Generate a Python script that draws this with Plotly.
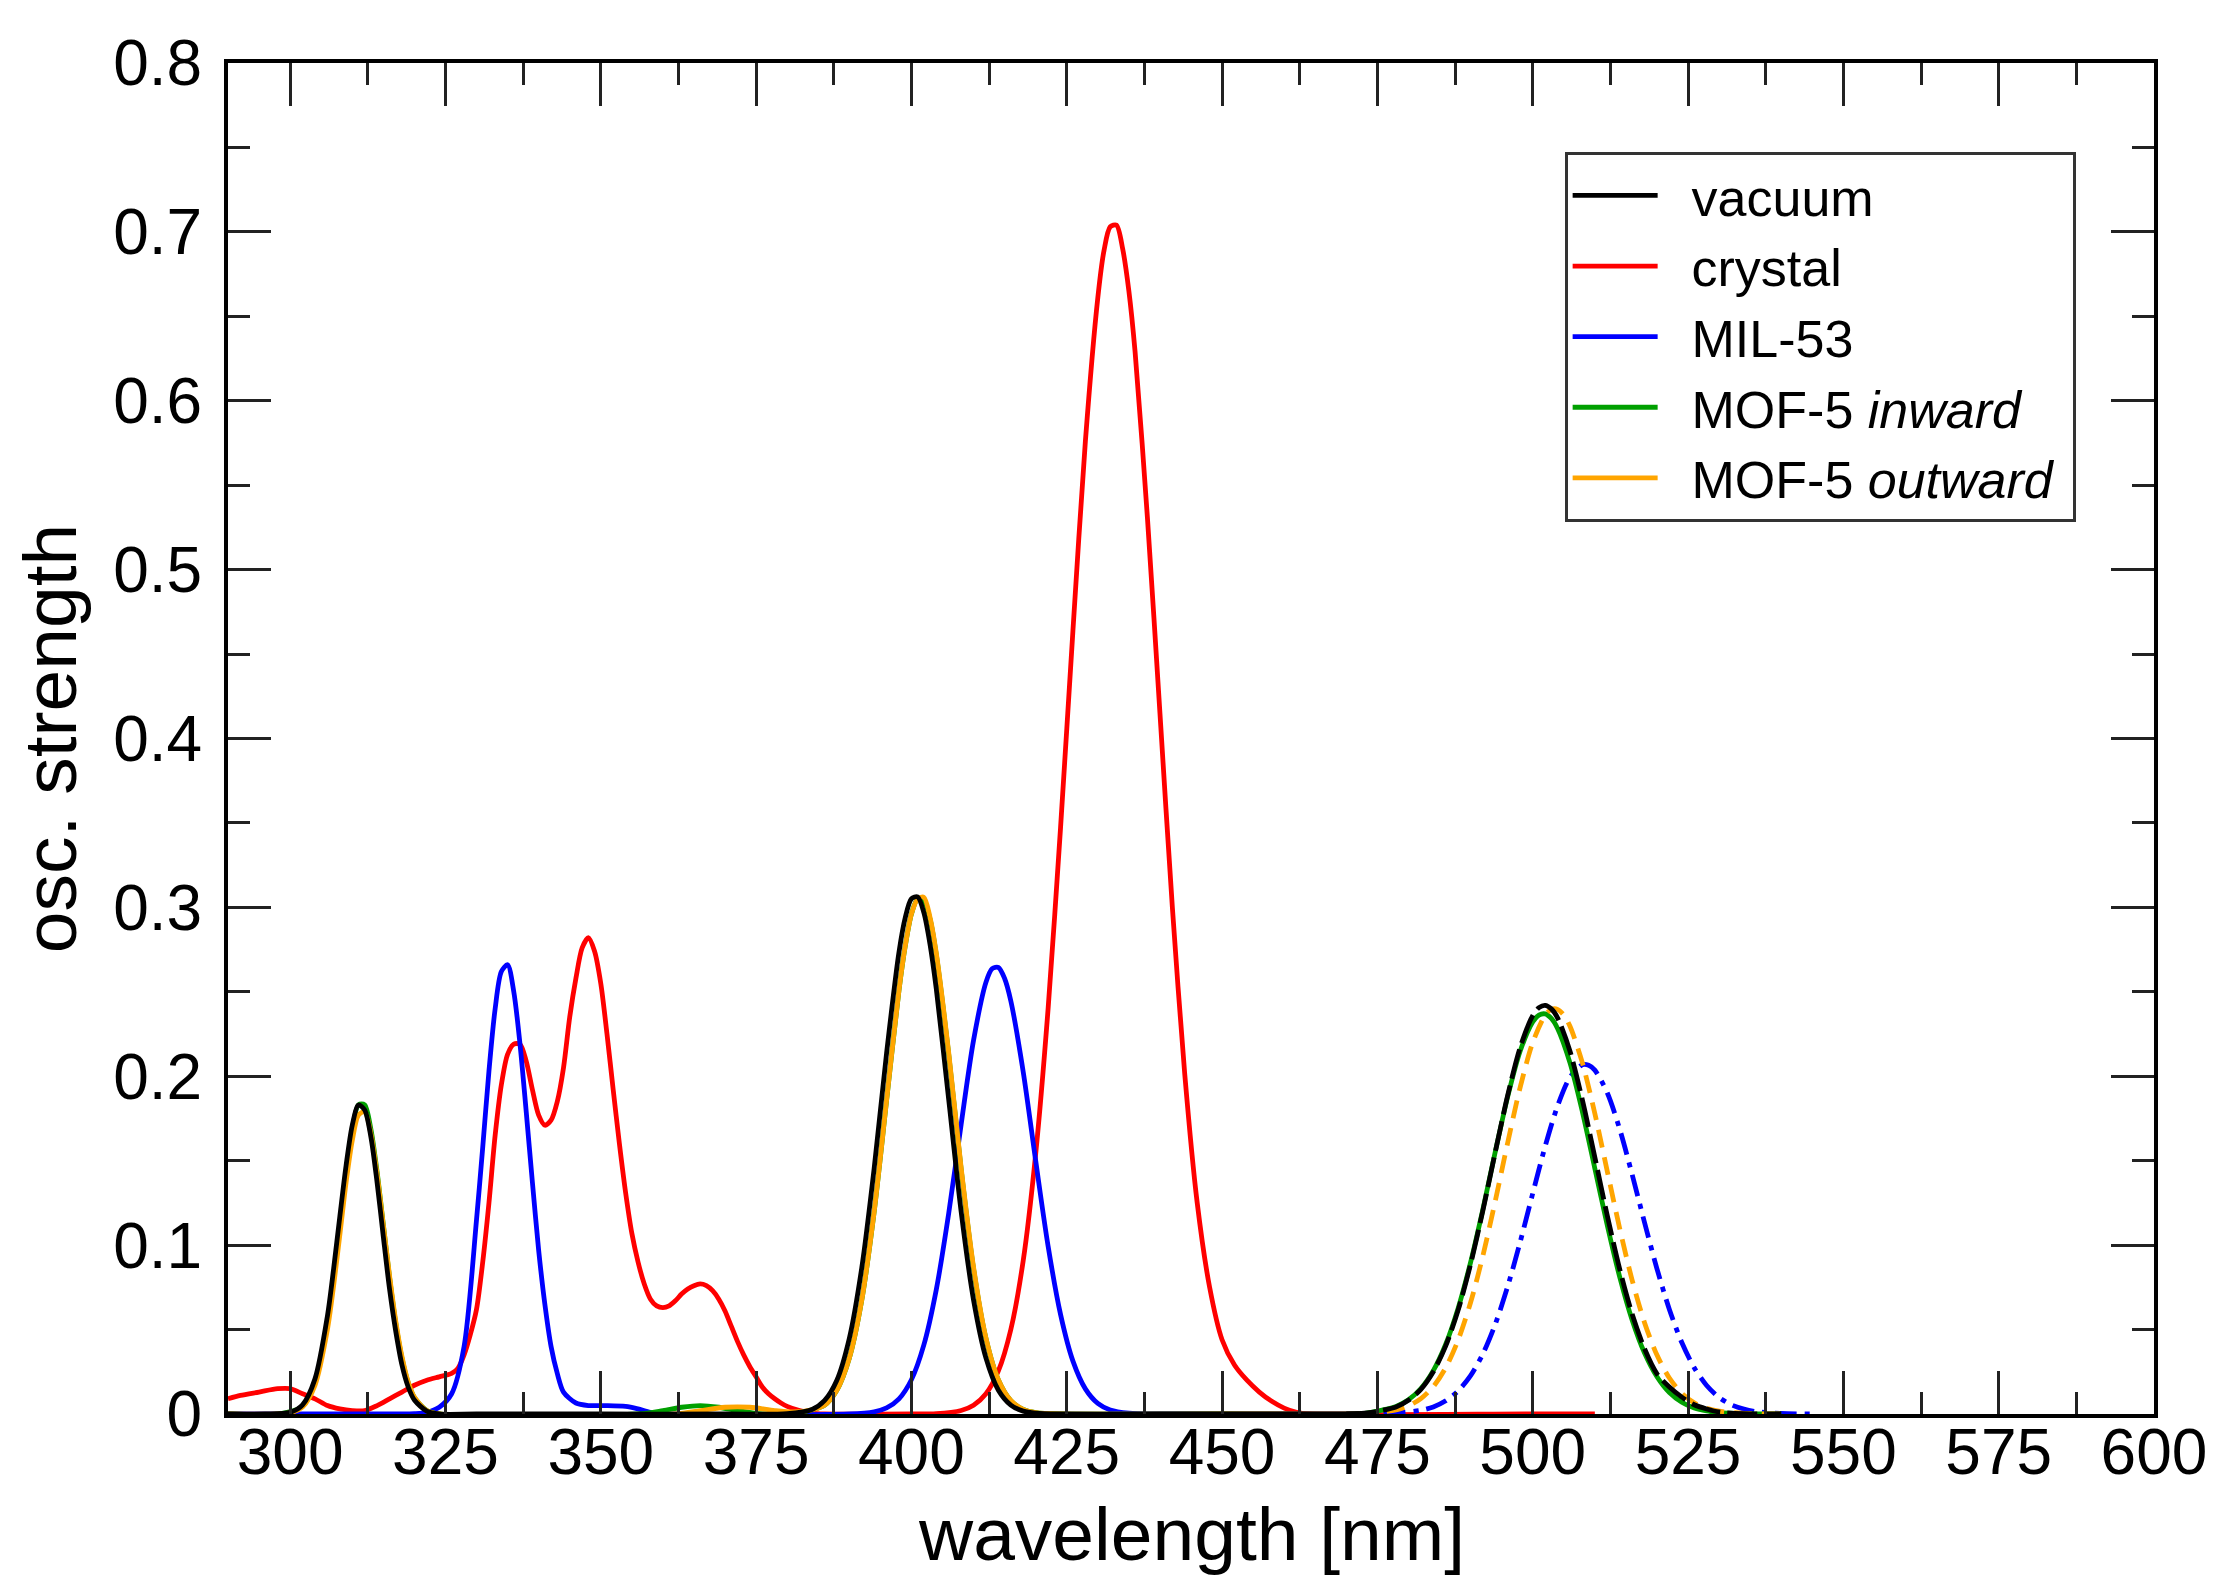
import plotly.graph_objects as go

# ---------------- data ----------------
vacuum_points = [(290, 0), (296, 0), (300, 0.001), (302, 0.0054), (304, 0.0208), (306, 0.058), (307, 0.086),
                 (308, 0.117), (309, 0.147), (310, 0.171), (311, 0.183), (312, 0.180), (313, 0.164), (314, 0.137),
                 (315, 0.105), (316, 0.074), (317, 0.049), (318, 0.029), (319, 0.016), (320, 0.0083), (322, 0.0017),
                 (324, 0), (330, 0), (350, 0), (370, 0), (380, 0.0002), (384, 0.0027), (386, 0.0079), (388, 0.020),
                 (390, 0.0447), (392, 0.0864), (394, 0.1454), (396, 0.2136), (398, 0.2735), (399, 0.2938),
                 (400, 0.3051), (401, 0.3062), (402, 0.2969), (403, 0.278), (404, 0.2518), (406, 0.1862),
                 (408, 0.120), (410, 0.0675), (412, 0.0331), (414, 0.0141), (416, 0.0053), (418, 0.0017),
                 (420, 0.0005), (424, 0), (440, 0), (460, 0), (472, 0)]
vacuum_band3_points = [(470, 0), (474, 0.001), (478, 0.0042), (480, 0.0081), (482, 0.0146), (484, 0.025),
                       (486, 0.0403), (488, 0.0615), (490, 0.0887), (492, 0.1208), (494, 0.1555), (496, 0.1891),
                       (498, 0.2173), (500, 0.2359), (501, 0.2406), (502, 0.242), (503, 0.2399), (504, 0.2346),
                       (506, 0.2148), (508, 0.1859), (510, 0.1521), (512, 0.1175), (514, 0.0858), (516, 0.0592),
                       (518, 0.0386), (520, 0.0238), (522, 0.016), (524, 0.010), (526, 0.0055), (528, 0.003),
                       (530, 0.0012), (534, 0.0002), (540, 0)]

crystal_points = [(290, 0.009), (292, 0.011), (295, 0.013), (298, 0.015), (300, 0.015), (302, 0.012), (304, 0.009),
                  (306, 0.005), (308, 0.003), (310, 0.002), (312, 0.002), (314, 0.005), (316, 0.009), (318, 0.013),
                  (320, 0.017), (322, 0.020), (324, 0.022), (326, 0.024), (327, 0.027), (328, 0.035), (329, 0.047),
                  (330, 0.062), (331, 0.090), (332, 0.125), (333, 0.165), (334, 0.195), (335, 0.213), (336, 0.219),
                  (337, 0.219), (338, 0.209), (339, 0.192), (340, 0.177), (341, 0.171), (342, 0.174), (343, 0.185),
                  (344, 0.205), (345, 0.235), (346, 0.258), (347, 0.276), (348, 0.282), (349, 0.274), (350, 0.255),
                  (351, 0.225), (352, 0.192), (353, 0.160), (354, 0.131), (355, 0.107), (356, 0.090), (357, 0.077),
                  (358, 0.068), (359, 0.064), (360, 0.063), (361, 0.064), (362, 0.067), (363, 0.071), (364, 0.074),
                  (365, 0.076), (366, 0.077), (367, 0.076), (368, 0.073), (369, 0.068), (370, 0.061), (371, 0.052),
                  (372, 0.043), (373, 0.035), (374, 0.028), (375, 0.022), (376, 0.016), (377, 0.012), (378, 0.009),
                  (379, 0.0065), (380, 0.0045), (382, 0.002), (384, 0.0005), (386, 0), (400, 0), (404, 0.0002),
                  (408, 0.0021), (410, 0.0052), (412, 0.0120), (414, 0.0255), (416, 0.0500), (418, 0.0910),
                  (420, 0.1540), (422, 0.2400), (424, 0.3470), (426, 0.4640), (428, 0.5760), (430, 0.6610),
                  (431, 0.689), (432, 0.7030), (433, 0.7040), (434, 0.6900), (435, 0.6650), (436, 0.6290),
                  (438, 0.5300), (440, 0.4150), (442, 0.3000), (444, 0.2010), (446, 0.1250), (448, 0.075),
                  (450, 0.044), (452, 0.029), (454, 0.020), (456, 0.013), (458, 0.0075), (460, 0.0035), (462, 0.001),
                  (464, 0), (500, 0), (510, 0)]

mil53_points = [(290, 0), (318, 0), (320, 0.0002), (322, 0.001), (324, 0.004), (326, 0.012), (328, 0.040),
                (330, 0.115), (331, 0.158), (332, 0.203), (333, 0.240), (334, 0.262), (335, 0.266), (336, 0.250),
                (337, 0.219), (338, 0.179), (339, 0.137), (340, 0.097), (341, 0.065), (342, 0.040), (343, 0.024),
                (344, 0.013), (346, 0.0065), (348, 0.005), (351, 0.005), (354, 0.0045), (356, 0.003), (358, 0.001),
                (361, 0), (390, 0), (394, 0.0013), (396, 0.0036), (398, 0.009), (400, 0.0203), (402, 0.0409),
                (404, 0.0736), (406, 0.1188), (408, 0.1714), (410, 0.2213), (412, 0.2557), (413, 0.2637),
                (414, 0.2644), (415, 0.2579), (416, 0.2446), (418, 0.2025), (420, 0.150), (422, 0.0994),
                (424, 0.059), (426, 0.0313), (428, 0.0149), (430, 0.0063), (432, 0.0024), (435, 0.0005),
                (440, 0), (472, 0)]
mil53_band3_points = [(476, 0), (478, 0.0005), (482, 0.0022), (484, 0.0042), (486, 0.0078), (488, 0.0137),
                      (490, 0.0227), (492, 0.0357), (494, 0.0534), (496, 0.0759), (498, 0.1021), (500, 0.1306),
                      (502, 0.1584), (504, 0.1824), (506, 0.1994), (508, 0.2068), (509, 0.2065), (510, 0.2036),
                      (512, 0.1902), (514, 0.1687), (516, 0.1419), (518, 0.1134), (520, 0.086), (522, 0.0619),
                      (524, 0.0423), (526, 0.0274), (528, 0.0169), (530, 0.0098), (532, 0.0054), (534, 0.0029),
                      (536, 0.0014), (540, 0.0003), (545, 0)]

mof5_inward_points = [(290, 0), (298, 0), (302, 0.0046), (304, 0.0186), (306, 0.0538), (307, 0.081), (308, 0.1122),
                      (309, 0.1434), (310, 0.1687), (311, 0.1831), (312, 0.1831), (313, 0.1687), (314, 0.1434),
                      (315, 0.1122), (316, 0.081), (317, 0.0538), (318, 0.033), (319, 0.0186), (320, 0.0097),
                      (322, 0.0021), (324, 0), (356, 0), (360, 0.002), (363, 0.004), (366, 0.005), (369, 0.004),
                      (372, 0.002), (376, 0), (382, 0.0008), (384, 0.0025), (386, 0.0052), (388, 0.0141),
                      (390, 0.033), (392, 0.0673), (394, 0.1197), (396, 0.1856), (398, 0.251), (399, 0.277),
                      (400, 0.296), (401, 0.305), (402, 0.304), (403, 0.293), (404, 0.272), (406, 0.213),
                      (408, 0.145), (410, 0.086), (412, 0.0446), (414, 0.0201), (416, 0.0079), (418, 0.0027),
                      (420, 0.0008), (424, 0), (450, 0), (472, 0), (474, 0.001), (478, 0.0044), (480, 0.0084),
                      (482, 0.0151), (484, 0.0257), (486, 0.0413), (488, 0.0627), (490, 0.0898), (492, 0.1216),
                      (494, 0.1557), (496, 0.1883), (498, 0.2151), (500, 0.2322), (501, 0.2362), (502, 0.2369),
                      (503, 0.2342), (504, 0.2283), (506, 0.2079), (508, 0.1789), (510, 0.1454), (512, 0.1118),
                      (514, 0.0812), (516, 0.0557), (518, 0.0361), (520, 0.0221), (522, 0.0127), (524, 0.007),
                      (526, 0.0036), (528, 0.0018), (530, 0.0008), (534, 0.0002), (540, 0)]

mof5_outward_points = [(290, 0), (298, 0), (300, 0.0007), (302, 0.0042), (304, 0.017), (306, 0.050), (307, 0.076),
                       (308, 0.106), (309, 0.137), (310, 0.162), (311, 0.177), (312, 0.179), (313, 0.166),
                       (314, 0.142), (315, 0.112), (316, 0.082), (317, 0.055), (318, 0.034), (319, 0.019),
                       (320, 0.010), (322, 0.002), (324, 0), (362, 0), (366, 0.002), (370, 0.004), (374, 0.004),
                       (378, 0.002), (381, 0.0012), (384, 0.0025), (386, 0.0052), (388, 0.0141), (390, 0.033),
                       (392, 0.0673), (394, 0.1197), (396, 0.1856), (398, 0.251), (399, 0.277), (400, 0.296),
                       (401, 0.305), (402, 0.306), (403, 0.294), (404, 0.273), (406, 0.214), (408, 0.146),
                       (410, 0.087), (412, 0.0450), (414, 0.0203), (416, 0.0080), (418, 0.0027), (420, 0.0008),
                       (424, 0), (450, 0), (472, 0)]
mof5_outward_band3_points = [(472, 0), (474, 0.0005), (478, 0.0024), (480, 0.0048), (482, 0.0091), (484, 0.0162),
                             (486, 0.0274), (488, 0.0438), (490, 0.066), (492, 0.094), (494, 0.1266), (496, 0.1611),
                             (498, 0.1937), (500, 0.22), (502, 0.2362), (503, 0.2396), (504, 0.2396), (505, 0.2362),
                             (506, 0.2296), (508, 0.2079), (510, 0.1779), (512, 0.1438), (514, 0.1099), (516, 0.0793),
                             (518, 0.0541), (520, 0.0349), (522, 0.0213), (524, 0.0122), (526, 0.0066), (528, 0.0034),
                             (530, 0.0017), (534, 0.0004), (540, 0)]

series_names = ["vacuum", "crystal", "MIL-53", "MOF-5 <i>inward</i>", "MOF-5 <i>outward</i>"]
series_colors = ["#000000", "#ff0000", "#0000ff", "#00a000", "#ffa500"]

x_ticks = [300, 325, 350, 375, 400, 425, 450, 475, 500, 525, 550, 575, 600]
y_ticks = [0, 0.1, 0.2, 0.3, 0.4, 0.5, 0.6, 0.7, 0.8]
y_tick_text = ["0", "0.1", "0.2", "0.3", "0.4", "0.5", "0.6", "0.7", "0.8"]

x_title = "wavelength [nm]"
y_title = "osc. strength"

# ---------------- figure ----------------
FONT = "Liberation Sans, Arial, Helvetica, sans-serif"
LW = 4.8
NBSP = "\u00a0\u00a0"


def xy(points):
    xs, ys = zip(*points)
    return list(xs), list(ys)


fig = go.Figure()


def add(points, idx, dash="solid", show=True):
    xs, ys = xy(points)
    fig.add_trace(go.Scatter(
        x=xs, y=ys, mode="lines", name=NBSP + series_names[idx] + "\u00a0",
        legendgroup=series_names[idx], showlegend=show, legendrank=idx + 1,
        line=dict(color=series_colors[idx], width=LW, dash=dash, shape="spline", smoothing=0.8),
        hoverinfo="skip"))


# drawing order (later on top)
add(crystal_points, 1)
add(mil53_points, 2)
add(mil53_band3_points, 2, dash="22px,8px,5px,8px", show=False)
add(mof5_inward_points, 3)
add(mof5_outward_points, 4)
add(mof5_outward_band3_points, 4, dash="18px,10px", show=False)
add(vacuum_points, 0)
add(vacuum_band3_points, 0, dash="30px,7px", show=False)

axis_common = dict(
    showline=True, linecolor="black", linewidth=4, mirror="ticks",
    ticks="inside", ticklen=43, tickwidth=3, tickcolor="#222",
    showgrid=False, zeroline=False,
    tickfont=dict(family=FONT, size=64, color="black"),
    title_font=dict(family=FONT, size=75, color="black"),
)

fig.update_layout(
    width=2226, height=1591,
    margin=dict(l=220, r=80, t=55, b=185),
    paper_bgcolor="white", plot_bgcolor="white",
    showlegend=True,
    legend=dict(
        x=0.694, y=0.934, xanchor="left", yanchor="top",
        bgcolor="white", bordercolor="#333", borderwidth=3,
        font=dict(family=FONT, size=52, color="black"),
        itemwidth=85, tracegroupgap=0,
    ),
    xaxis=dict(
        range=[290, 600], tickmode="array", tickvals=x_ticks,
        ticktext=[str(v) for v in x_ticks],
        minor=dict(ticks="inside", ticklen=22, tickwidth=3, tickcolor="#222", dtick=12.5, tick0=300,
                   showgrid=False),
        ticklabelstandoff=-21,
        **axis_common,
    ),
    yaxis=dict(
        range=[0, 0.8], tickmode="array", tickvals=y_ticks, ticktext=y_tick_text,
        minor=dict(ticks="inside", ticklen=22, tickwidth=3, tickcolor="#222", dtick=0.05, tick0=0,
                   showgrid=False),
        title=dict(text=y_title, standoff=17),
        ticklabelstandoff=9,
        **axis_common,
    ),
    annotations=[dict(
        text=x_title, xref="paper", yref="paper", x=0.5, y=-0.0888,
        xanchor="center", yanchor="middle", showarrow=False,
        font=dict(family=FONT, size=75, color="black"))],
)

fig.write_html("out.html", config={"displayModeBar": False})
